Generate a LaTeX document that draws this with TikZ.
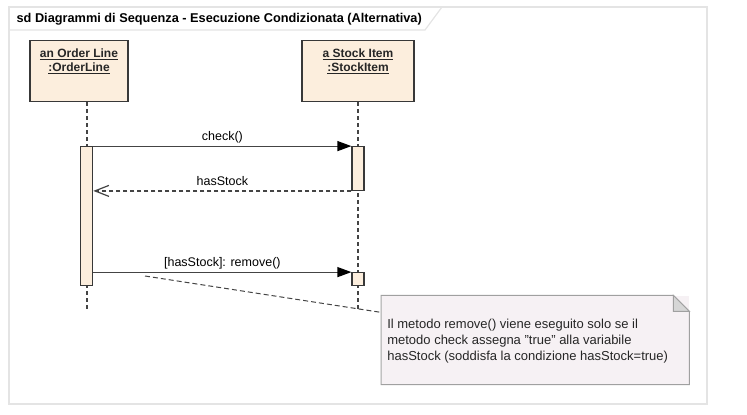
\documentclass[tikz,border=0pt]{standalone}
\usepackage{fontspec}
\setmainfont{Liberation Sans}
\usetikzlibrary{arrows.meta,positioning}

\definecolor{boxfill}{HTML}{FCEEDD}
\definecolor{boxline}{HTML}{383838}
\definecolor{msgline}{HTML}{444444}
\definecolor{framegray}{HTML}{E4E4E4}
\definecolor{notefill}{HTML}{F6F1F4}
\definecolor{noteline}{HTML}{A0A0A0}
\definecolor{foldfill}{HTML}{D6D6D6}

\begin{document}
\begin{tikzpicture}[
    x = 1pt, y = -1pt, % pixel units, y grows downward
    > = {Triangle[length=14pt,width=10pt,black]}, % arrow head style
    line width = 1.2pt, % line style
    font = \fontsize{12.5}{16}\selectfont
    ]

    \tikzset{
    head/.style = {draw = boxline, fill = boxfill, minimum width = 98pt,
        minimum height = 61pt, inner sep = 0pt},
    headtxt/.style = {inner sep = 0pt, align = center, text = black!85,
        font = \fontsize{12}{14}\selectfont\bfseries},
    act/.style = {draw = boxline, fill = boxfill, minimum width = 12pt,
        inner sep = 0pt},
    lifeline/.style = {draw = msgline, dash pattern = on 4pt off 3pt},
    call/.style = {draw = msgline, ->},
    reply/.style = {draw = msgline, dash pattern = on 4pt off 3pt,
        -{Straight Barb[length=14pt,width=11pt]}},
    lbl/.style = {above, inner sep = 5pt, text depth = 0pt},
    notebox/.style = {fill = notefill, minimum width = 307pt,
        minimum height = 88pt, inner sep = 0pt}
    }

    \useasboundingbox (0,0) rectangle (747,415);

    % frame and title tab
    \draw[framegray] (9,7) rectangle (707,404);
    \draw[framegray] (9,30) -- (425,30) -- (442,7);
    \node[anchor = west, inner sep = 0pt, font = \fontsize{12.75}{14}\selectfont\bfseries] (title)
        at (16,19) {sd Diagrammi di Sequenza - Esecuzione Condizionata (Alternativa)};

    % lifeline heads
    \node[head] (ol) at (79,71) {};
    \node[head, minimum width = 112pt] (si) at (358,71) {};
    \node[headtxt] (oltxt) [below = 8pt of ol.north] {\underline{an Order Line}\\\underline{:OrderLine}};
    \node[headtxt] (sitxt) [below = 8pt of si.north] {\underline{a Stock Item}\\\underline{:StockItem}};

    \coordinate (olend) at (87,309);
    \coordinate (siend) at (358,311);
    \draw[lifeline] (ol.south -| olend) -- (olend);
    \draw[lifeline] (si.south -| siend) -- (siend);

    % activations
    \node[act, minimum height = 139pt] (a1) at (86.7,216.2) {};
    \node[act, minimum height = 43.6pt] (a2) at (358,168.5) {};
    \node[act, minimum height = 13pt] (a3) at (358,279.2) {};

    % messages
    \path (a1.north east) edge[call] node[lbl] {check()} (a2.north west);
    \path (a2.south west) edge[reply] node[lbl] {hasStock} (a1.east |- a2.south);
    \path (a1.east |- a3.north) edge[call] node[lbl] {[hasStock]: remove()} (a3.north west);

    % note
    \node[notebox] (note) at (535.3,340) {};
    \draw[noteline, line width = 1pt] (note.south west) -- (note.north west)
        -- ([xshift = -16pt]note.north east) -- ([yshift = -16pt]note.north east)
        -- (note.south east) -- cycle;
    \filldraw[draw = noteline, fill = foldfill, line width = 1pt] ([xshift = -16pt]note.north east)
        -- ([xshift = -16pt, yshift = -16pt]note.north east) -- ([yshift = -16pt]note.north east) -- cycle;
    \node[anchor = north west, inner sep = 0pt, align = left, text = black!85,
        font = \fontsize{13}{16}\selectfont] (notetxt)
        [below right = 23pt and 5.5pt of note.north west]
        {Il metodo remove() viene eseguito solo se il\\
         metodo check assegna "true" alla variabile\\
         hasStock (soddisfa la condizione hasStock=true)};

    \coordinate (nlink) at (145,276);
    \draw[msgline, line width = 1pt, dash pattern = on 5pt off 3pt] (nlink) -- ([yshift = -17pt]note.north west);
\end{tikzpicture}
\end{document}
